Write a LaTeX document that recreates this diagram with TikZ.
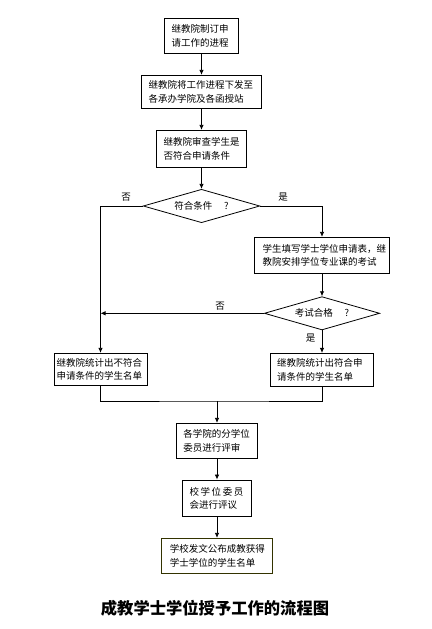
\documentclass[tikz,border=0pt]{standalone}
\usepackage{fontspec}
\newfontfamily\cjk{Noto Sans CJK SC}
\usetikzlibrary{shapes.geometric,arrows.meta}
\definecolor{olivedark}{HTML}{333300}
\begin{document}
\begin{tikzpicture}[x=1pt,y=-1pt,
  font=\cjk\fontsize{9.5}{13.3}\selectfont,
  every path/.style={line width=0.8pt},
  arr/.style={-{Latex[length=5pt,width=4.5pt]}},
  stepbox/.style={draw, line width=0.8pt, align=left, inner ysep=0pt, inner xsep=#1, anchor=center},
  stepbox/.default=7pt,
  decide/.style={draw, diamond, aspect=3.5, inner sep=0pt, line width=0.8pt},
  lbl/.style={inner sep=0pt}
]
\useasboundingbox (0,0) rectangle (431,629);
\node[stepbox, text width=60pt, minimum height=35pt] (b1) at (201.5,35.8) {继教院制订申\\请工作的进程};
\node[stepbox, text width=106pt, minimum height=33pt] (b2) at (201.5,91.8) {继教院将工作进程下发至\\各承办学院及各函授站};
\node[stepbox, text width=76pt, minimum height=37pt] (b3) at (201.5,148.8) {继教院审查学生是\\否符合申请条件};
\node[decide, minimum width=116.6pt, minimum height=33.4pt] (d1) at (201.5,206) {符合条件\quad\ ?};
\node[stepbox=8pt, text width=119pt, minimum height=36pt] (b5) at (322,255.3) {学生填写学士学位申请表，继\\教院安排学位专业课的考试};
\node[decide, minimum width=115.3pt, minimum height=33.3pt] (d2) at (322,313.3) {考试合格\quad\ ?};
\node[stepbox=2.5pt, text width=88pt, minimum height=32.4pt] (b4) at (100.5,369.5) {继教院统计出不符合\\申请条件的学生名单};
\node[stepbox=6.5pt, text width=89.6pt, minimum height=32.7pt] (b6) at (322,369.7) {继教院统计出符合申\\请条件的学生名单};
\coordinate (m) at (217,401);
\node[stepbox, text width=67.4pt, minimum height=35pt] (b7) at (217,440.8) {各学院的分学位\\委员进行评审};
\node[stepbox, text width=55pt, minimum height=36.7pt] (b8) at (217,498.3) {校\,学\,位\,委\,员\\会进行评议};
\node[stepbox=8pt, draw=olivedark, text width=94.4pt, minimum height=35pt] (b9) at (217,555.8) {学校发文公布成教获得\\学士学位的学生名单};
\node[lbl, font=\cjk\bfseries\fontsize{16.3}{19}\selectfont] (title) at (215,608) {成教学士学位授予工作的流程图};
% labels
\node[lbl] (n1) at (126,197) {否};
\node[lbl] (y1) at (283,197) {是};
\node[lbl] (n2) at (220,305.7) {否};
\node[lbl] (y2) at (310.7,338.3) {是};
% connectors
\draw[arr] (b1) -- (b2);
\draw[arr] (b2) -- (b3);
\draw[arr] (b3) -- (d1);
\draw[arr] (d1.west) -| (b4.north);
\draw[arr] (d1.east) -| (b5.north);
\draw[arr] (b5) -- (d2);
\draw[arr] (d2.west) -- (b4.north |- d2.west);
\draw[arr] (d2) -- (b6);
\draw (b4.south) |- (m) -| (b6.south);
\draw[arr] (m) -- (b7.north);
\draw[arr] (b7) -- (b8);
\draw[arr] (b8) -- (b9);
\end{tikzpicture}
\end{document}
